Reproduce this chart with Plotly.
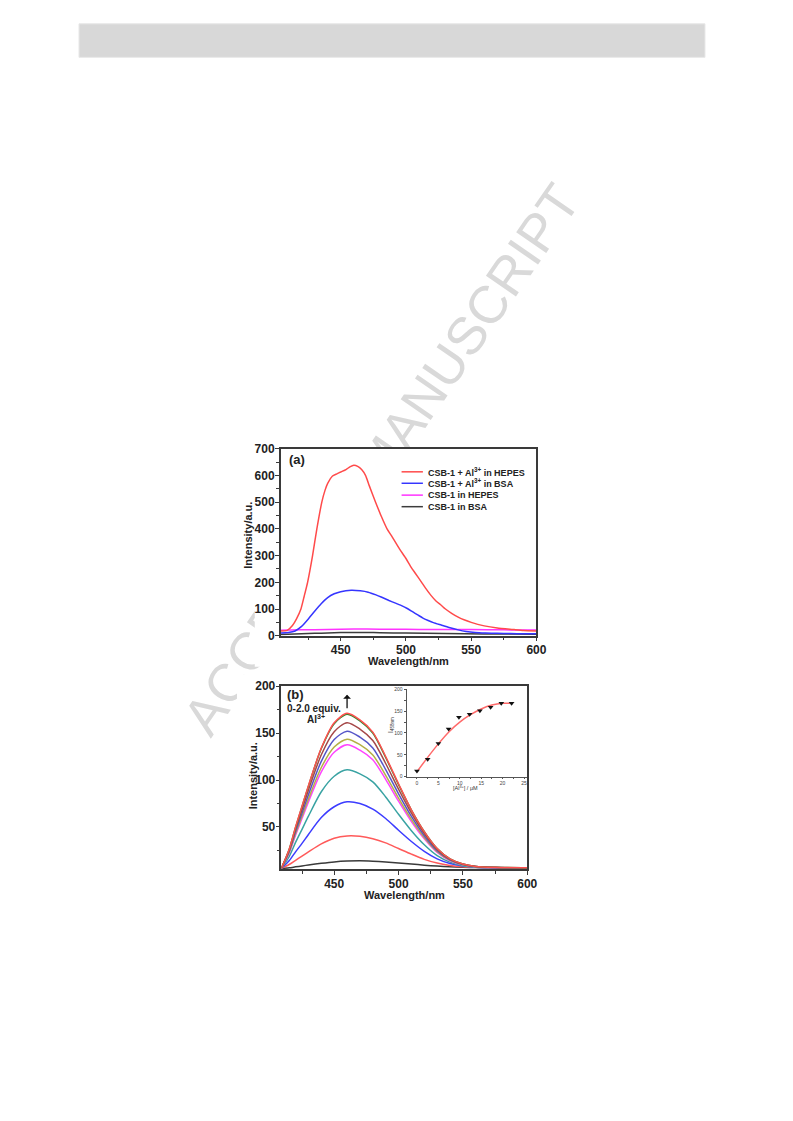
import plotly.graph_objects as go

W, H = 793, 1121
FONT = "Liberation Sans, Arial, sans-serif"

# ---------------- Panel (a) data ----------------
a_red_x = [404, 409, 413, 416, 419.5, 422, 424.6, 428.4, 431.7, 435.5, 438, 440, 443.7, 447, 450, 454, 457, 460,
           463, 466, 469, 472, 476.7, 481, 485.5, 489.4, 495, 499.6, 504, 507, 512, 515,
           519, 523, 527, 530, 535, 540, 545, 550, 560, 570, 583, 590, 600]
a_red_y = [18, 20, 38, 62, 100, 148, 200, 300, 400, 500, 545, 570, 598, 606, 613, 622, 632, 638,
           634, 622, 600, 560, 500, 448, 400, 370, 325, 292, 256, 235, 200, 178,
           152, 130, 114, 101, 84, 70, 59, 50, 37, 29, 23, 20, 18]
a_blue_x = [404, 410, 415, 420, 425, 430, 435, 440, 445, 450, 458, 465, 471, 477, 481, 487, 492, 497,
            501, 505, 509, 513, 517, 521, 527, 533, 540, 546, 553, 561, 570, 580, 590, 600]
a_blue_y = [10, 12, 18, 35, 62, 92, 120, 143, 157, 165, 170, 168, 163, 153, 145, 132, 122, 112,
            102, 90, 78, 66, 57, 49, 40, 31, 22, 16, 12, 10, 9, 8, 7.5, 7]
a_mag_x = [404, 420, 440, 460, 480, 500, 520, 550, 575, 600]
a_mag_y = [21, 22, 23.5, 25, 24.5, 24, 23.5, 23, 22, 21.5]
a_blk_x = [404, 420, 430, 440, 450, 460, 470, 480, 500, 530, 560, 600]
a_blk_y = [5, 7, 9, 10.5, 12, 12.5, 12, 11.5, 10, 8, 6.5, 6]

a_names = ["CSB-1 + Al<sup>3+</sup> in HEPES", "CSB-1 + Al<sup>3+</sup> in BSA", "CSB-1 in HEPES", "CSB-1 in BSA"]
a_colors = ["#ff4a4a", "#3535ff", "#ff33ff", "#3c3c3c"]

# ---------------- Panel (b) data ----------------
b_x = [409, 415, 420, 425, 430, 440, 450, 460, 470, 480, 490, 500, 510, 520, 530, 540, 550, 560, 575, 600]
b_c0 = [5.5, 6.5, 7.5, 8.5, 9.5, 11.3, 12.8, 13.7, 14, 13.6, 12.8, 11.7, 10.5, 9.3, 8.3, 7.5, 7, 6.7, 6.5, 6.4]
b_c1 = [6, 10, 14.5, 19, 23.5, 32, 38, 40.4, 40, 37.5, 33, 27, 21, 15.5, 11.5, 9, 7.6, 7, 6.6, 6.5]
b_c2 = [6, 14, 23.5, 32.5, 42, 60, 71.5, 76.8, 75, 69, 59, 46.5, 34.5, 24, 16, 11, 8.3, 7.1, 6.6, 6.5]
b_c3 = [6, 18.5, 33.5, 47.5, 61.5, 87.5, 104, 110.8, 106.5, 98, 82, 63.5, 46, 31, 19.5, 12.5, 8.8, 7.3, 6.7, 6.5]
b_c4 = [6, 22, 41.2, 58.9, 76.6, 108.6, 129.5, 137.5, 131.8, 121.5, 100.7, 77.4, 55.7, 37.3, 22.8, 14, 9.6, 7.6, 6.8, 6.5]
b_c5 = [6, 22.8, 42.9, 61.3, 79.8, 113.3, 135.1, 143.5, 137.6, 126.7, 105, 80.7, 58, 38.7, 23.6, 14.4, 9.7, 7.7, 6.8, 6.5]
b_c6 = [6, 23.8, 45.1, 64.7, 84.4, 119.9, 143.1, 152, 145.7, 134.2, 111.1, 85.3, 61.2, 40.7, 24.7, 14.9, 10, 7.8, 6.9, 6.5]
b_c7 = [6, 24.9, 47.5, 68.3, 89.2, 126.9, 151.5, 161, 154.3, 142, 117.6, 90.2, 64.6, 42.9, 25.8, 15.5, 10.2, 7.9, 6.9, 6.5]
b_c8 = [6, 26, 49.5, 71.5, 93.5, 133.5, 160, 170, 163, 150, 124, 95, 68, 45, 27, 16, 10.5, 8, 7, 6.5]
b_c9 = [6, 26, 50, 72, 94, 134, 161, 171, 164, 151, 125, 96, 68, 45, 27, 16, 10.5, 8, 7, 6.5]
b_series = [b_c0, b_c1, b_c2, b_c3, b_c4, b_c5, b_c6, b_c7, b_c8, b_c9]
b_colors = ["#3a3a3a", "#ff5a5a", "#3c3cff", "#3aa3a3", "#ff44ff", "#b5b045", "#5555c8", "#a54848", "#2e8a2e", "#ff5050"]

# inset
ins_x = [0, 2.5, 5, 7.4, 9.8, 12.3, 14.7, 17.2, 19.7, 22.1]
ins_y = [13, 40, 76, 109, 136, 143, 151, 159, 168, 168]
fit_x = [0, 2.5, 5, 7.5, 10, 12.5, 15, 17.5, 20, 22.1]
fit_y = [11, 44, 75, 103, 125, 142, 155, 164, 168, 168]


def px(x):
    return x / W


def py(y):
    return 1 - y / H


fig = go.Figure()

# panel (a) traces
a_data = [(a_red_x, a_red_y), (a_blue_x, a_blue_y), (a_mag_x, a_mag_y), (a_blk_x, a_blk_y)]
for i in [3, 2, 1, 0]:
    xs, ys = a_data[i]
    fig.add_trace(go.Scatter(x=xs, y=ys, mode="lines", line=dict(color=a_colors[i], width=1.5, shape="spline", smoothing=0.5),
                             xaxis="x", yaxis="y", showlegend=False, hoverinfo="skip"))

# panel (b) traces
for s, c in zip(b_series, b_colors):
    fig.add_trace(go.Scatter(x=b_x, y=s, mode="lines", line=dict(color=c, width=1.5, shape="spline", smoothing=0.8),
                             xaxis="x2", yaxis="y2", showlegend=False, hoverinfo="skip"))

# inset traces
fig.add_trace(go.Scatter(x=fit_x, y=fit_y, mode="lines", line=dict(color="#ff6a6a", width=1.5, shape="spline"),
                         xaxis="x3", yaxis="y3", showlegend=False, hoverinfo="skip"))
fig.add_trace(go.Scatter(x=ins_x, y=ins_y, mode="markers", marker=dict(symbol="triangle-down", size=5, color="#111"),
                         xaxis="x3", yaxis="y3", showlegend=False, hoverinfo="skip"))

tickfont = dict(family=FONT, size=12, color="#222", weight="bold")
frame = dict(showline=True, linecolor="#3a3a3a", linewidth=1.5, mirror=True, ticks="outside", ticklen=4,
             tickwidth=1, tickcolor="#3a3a3a", showgrid=False, zeroline=False, tickfont=tickfont)

fig.update_layout(
    width=W, height=H, autosize=False,
    margin=dict(l=0, r=0, t=0, b=0),
    paper_bgcolor="white", plot_bgcolor="rgba(0,0,0,0)",
    xaxis=dict(domain=[px(284.3), px(543.3)], range=[404, 600], anchor="y", dtick=50, tick0=400,
               ticklabelstandoff=-2,
               minor=dict(ticks="outside", ticklen=2.5, dtick=25, tick0=400, tickcolor="#3a3a3a"), **frame),
    yaxis=dict(domain=[py(636.7), py(447.3)], range=[0, 700], anchor="x", dtick=100, tick0=0,
               ticklabelstandoff=-2,
               minor=dict(ticks="outside", ticklen=2.5, dtick=50, tick0=0, tickcolor="#3a3a3a"), **frame),
    xaxis2=dict(domain=[px(285), px(534)], range=[409, 600], anchor="y2", dtick=50, tick0=400,
                ticklabelstandoff=-2,
                minor=dict(ticks="outside", ticklen=2.5, dtick=25, tick0=400, tickcolor="#3a3a3a"), **frame),
    yaxis2=dict(domain=[py(873.3), py(687.7)], range=[4.8, 200], anchor="x2", dtick=50, tick0=0,
                ticklabelstandoff=-2,
                minor=dict(ticks="outside", ticklen=2.5, dtick=25, tick0=0, tickcolor="#3a3a3a"), **frame),
    xaxis3=dict(domain=[px(411.7), px(533.3)], range=[-2.44, 25.6], anchor="y3", dtick=5, tick0=0,
                showline=True, linecolor="#555", linewidth=0.8, ticks="outside", ticklen=2, tickwidth=0.6,
                tickcolor="#555", showgrid=False, zeroline=False,
                tickfont=dict(family=FONT, size=5, color="#444"),
                minor=dict(ticks="outside", ticklen=1.2, dtick=2.5, tick0=0, tickcolor="#555")),
    yaxis3=dict(domain=[py(779.3), py(691)], range=[0, 200], anchor="x3", dtick=50, tick0=0,
                showline=True, linecolor="#555", linewidth=0.8, ticks="outside", ticklen=2, tickwidth=0.6,
                tickcolor="#555", showgrid=False, zeroline=False,
                tickfont=dict(family=FONT, size=5, color="#444"),
                minor=dict(ticks="outside", ticklen=1.2, dtick=25, tick0=0, tickcolor="#555")),
)

shapes = []
# header bar
shapes.append(dict(type="rect", xref="paper", yref="paper", x0=px(80), x1=px(714), y0=py(51), y1=py(17),
                   fillcolor="#d8d8d8", line=dict(color="#e8e8e8", width=1), layer="below"))
# watermark (behind chart images)
shapes.append(dict(type="line", xref="paper", yref="paper", x0=px(211.5), y0=py(702), x1=px(552.5), y1=py(208),
                   line=dict(color="rgba(0,0,0,0)", width=0), layer="below",
                   label=dict(text="ACCEPTED MANUSCRIPT", textposition="middle", yanchor="middle",
                              font=dict(family=FONT, size=53, color="#d9d9d9"))))
# white chart image backgrounds
shapes.append(dict(type="rect", xref="paper", yref="paper", x0=px(258), x1=px(560), y0=py(668), y1=py(446),
                   fillcolor="white", line=dict(width=0), layer="below"))
shapes.append(dict(type="rect", xref="paper", yref="paper", x0=px(240), x1=px(545), y0=py(905), y1=py(676),
                   fillcolor="white", line=dict(width=0), layer="below"))
# legend swatches for (a)
leg_y = [470.7, 482.3, 494.3, 506]
for yy, c in zip(leg_y, a_colors):
    shapes.append(dict(type="line", xref="paper", yref="paper", x0=px(406.7), x1=px(428.3), y0=py(yy), y1=py(yy),
                       line=dict(color=c, width=1.5)))
fig.update_layout(shapes=shapes)

ann = []
bold = dict(family=FONT, color="#222", weight="bold")
for yy, name in zip(leg_y, a_names):
    ann.append(dict(xref="paper", yref="paper", x=px(431), y=py(yy), text=name, showarrow=False,
                    xanchor="left", yanchor="middle", font=dict(size=9, **bold)))
ann += [
    dict(xref="paper", yref="paper", x=px(300.5), y=py(458), text="(a)", showarrow=False,
         xanchor="center", yanchor="middle", font=dict(size=13, **bold)),
    dict(xref="paper", yref="paper", x=px(414), y=py(662), text="Wavelength/nm", showarrow=False,
         xanchor="center", yanchor="middle", font=dict(size=11, **bold)),
    dict(xref="paper", yref="paper", x=px(251.7), y=py(535), text="Intensity/a.u.", showarrow=False,
         textangle=-90, xanchor="center", yanchor="middle", font=dict(size=11, **bold)),
    dict(xref="paper", yref="paper", x=px(299.5), y=py(696), text="(b)", showarrow=False,
         xanchor="center", yanchor="middle", font=dict(size=13, **bold)),
    dict(xref="paper", yref="paper", x=px(318.5), y=py(710), text="0-2.0 equiv.", showarrow=False,
         xanchor="center", yanchor="middle", font=dict(size=10, **bold)),
    dict(xref="paper", yref="paper", x=px(320), y=py(721.5), text="Al<sup>3+</sup>", showarrow=False,
         xanchor="center", yanchor="middle", font=dict(size=10, **bold)),
    dict(xref="paper", yref="paper", x=px(351.5), y=py(696.5), text="", showarrow=True, ax=0, ay=15,
         arrowhead=1, arrowsize=1, arrowwidth=1.3, arrowcolor="#111"),
    dict(xref="paper", yref="paper", x=px(409.5), y=py(899.5), text="Wavelength/nm", showarrow=False,
         xanchor="center", yanchor="middle", font=dict(size=11, **bold)),
    dict(xref="paper", yref="paper", x=px(256), y=py(778.3), text="Intensity/a.u.", showarrow=False,
         textangle=-90, xanchor="center", yanchor="middle", font=dict(size=11, **bold)),
    dict(xref="paper", yref="paper", x=px(396), y=py(727), text="I<sub>458nm</sub>", showarrow=False,
         textangle=-90, xanchor="center", yanchor="middle", font=dict(family=FONT, size=6.5, color="#333")),
    dict(xref="paper", yref="paper", x=px(471.5), y=py(790.5), text="[Al<sup>3+</sup>] / μM", showarrow=False,
         xanchor="center", yanchor="middle", font=dict(family=FONT, size=5.5, color="#333")),
]
fig.update_layout(annotations=ann)

post = ("document.documentElement.style.margin='0px';document.documentElement.style.overflow='hidden';"
        "document.body.style.margin='0px';document.body.style.overflow='hidden';"
        "var d=document.getElementById('{plot_id}');d.style.position='fixed';d.style.left='0px';d.style.top='0px';")
fig.write_html("out.html", config={"displayModeBar": False}, post_script=post)
